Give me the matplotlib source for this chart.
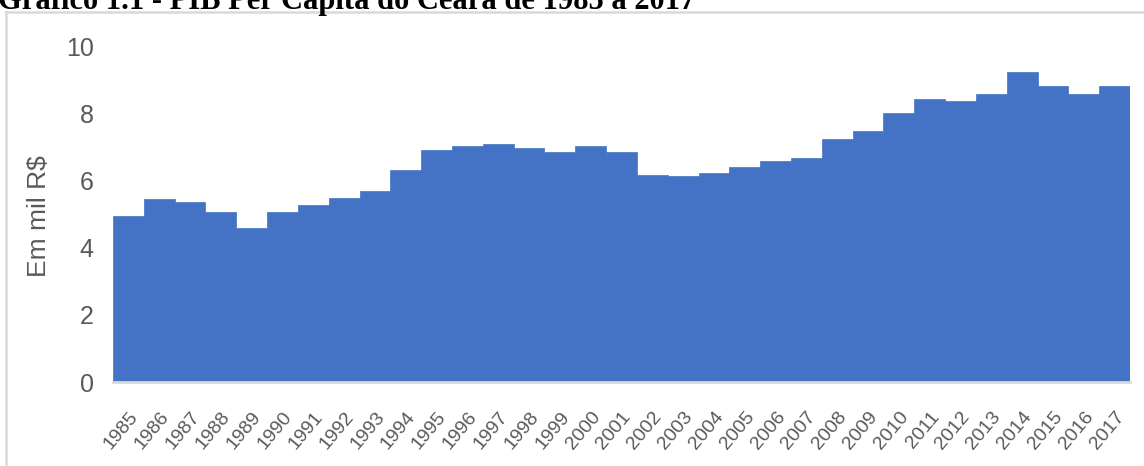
import matplotlib
matplotlib.use("Agg")
import matplotlib.pyplot as plt
from matplotlib.lines import Line2D
from matplotlib.transforms import ScaledTranslation

years = [str(y) for y in range(1985, 2018)]
pib = [4.95, 5.46, 5.37, 5.05, 4.59, 5.05, 5.28, 5.47, 5.68, 6.30,
       6.90, 7.03, 7.07, 6.96, 6.85, 7.03, 6.85, 6.15, 6.12, 6.21,
       6.40, 6.57, 6.67, 7.22, 7.47, 8.01, 8.43, 8.35, 8.57, 9.22,
       8.80, 8.57, 8.80]
yticks = [0, 2, 4, 6, 8, 10]
title = "Gráfico 1.1 - PIB Per Capita do Ceará de 1985 a 2017"
ylabel = "Em mil R$"

sans = ["Liberation Sans", "DejaVu Sans"]
gray = "#595959"

fig = plt.figure(figsize=(11.44, 4.66), dpi=100)
ax = fig.add_axes([113/1144, 1-382/466, (1130-113)/1144, (382-46)/466])

x = list(range(len(years)))
ax.bar(x, pib, width=1.0, color="#4472C4", edgecolor="#4472C4", linewidth=0.5)
ax.set_xlim(-0.5, len(years)-0.5)
ax.set_ylim(0, 10)
ax.set_yticks(yticks)
ax.set_yticklabels([str(t) for t in yticks], family=sans, fontsize=18, color=gray)
ax.set_xticks(x)
ax.set_xticklabels(years, rotation=50, ha="right", va="top", rotation_mode="anchor",
                   family=sans, fontsize=14, color=gray)
offset = ScaledTranslation(5/100, 0, fig.dpi_scale_trans)
for lab in ax.get_xticklabels():
    lab.set_transform(lab.get_transform() + offset)
ax.tick_params(axis="both", length=0)
ax.tick_params(axis="y", pad=14)
ax.tick_params(axis="x", pad=19)
for s in ["top", "right", "left"]:
    ax.spines[s].set_visible(False)
ax.spines["bottom"].set_color("#d9d9d9")
ax.spines["bottom"].set_linewidth(2)
ax.set_ylabel(ylabel, family=sans, fontsize=19, color=gray)
ax.yaxis.set_label_coords(-62/1017, 0.494)

# outer frame (partially visible)
fig.add_artist(Line2D([6/1144, 1.0], [1-12/466, 1-12/466], transform=fig.transFigure,
                      color="#d9d9d9", linewidth=1.8))
fig.add_artist(Line2D([6/1144, 6/1144], [0, 1-12/466], transform=fig.transFigure,
                      color="#d9d9d9", linewidth=1.8))

fig.text(-2/1144, 1-9/466, title, family=["Liberation Serif", "DejaVu Serif"], fontweight="bold",
         fontsize=22, va="baseline", ha="left", color="black")

fig.savefig("out.png", dpi=100)
